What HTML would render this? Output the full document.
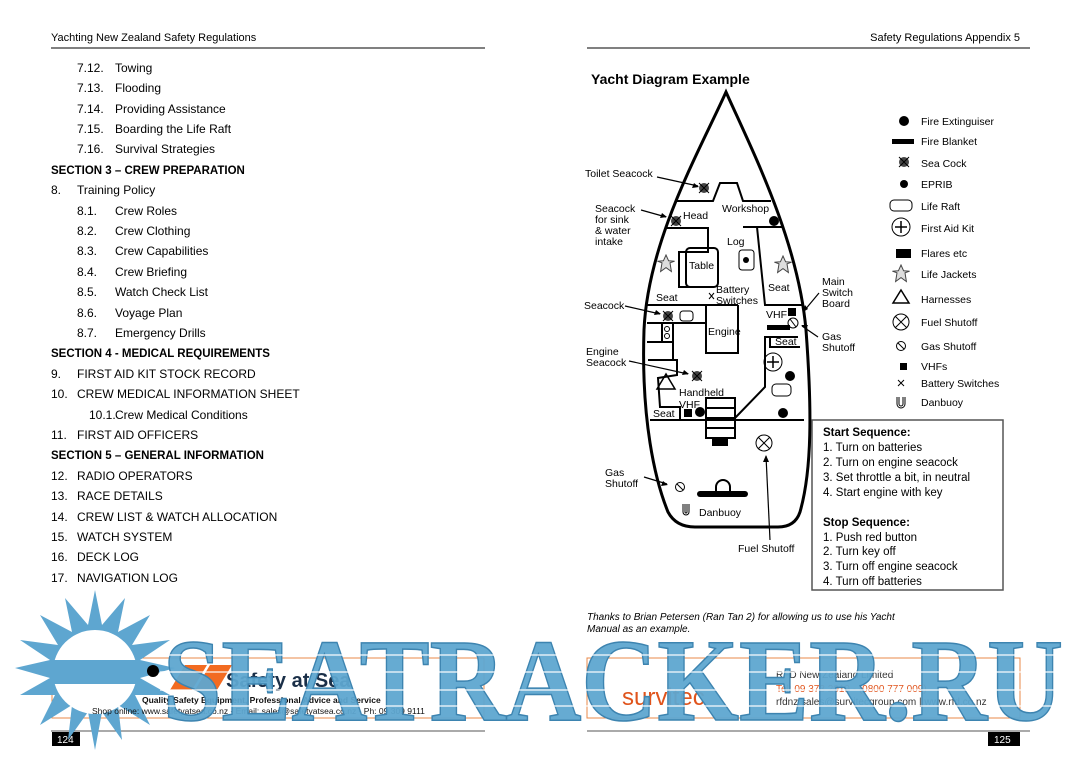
<!DOCTYPE html>
<html><head><meta charset="utf-8"><style>
html,body{margin:0;padding:0;background:#fff;}
svg{display:block;font-family:"Liberation Sans",sans-serif;}
</style></head><body>
<svg width="1080" height="757" viewBox="0 0 1080 757" xmlns="http://www.w3.org/2000/svg">
<defs>
<symbol id="sc" viewBox="-6 -6 12 12"><circle r="5" fill="#444"/><path d="M-5-5L5 5M5-5L-5 5" stroke="#000" stroke-width="1"/></symbol>
<symbol id="star" viewBox="-10 -10 20 20"><path d="M0-9L2.6-3.2 8.6-2.8 4-1.2 5.4 7.5 0 3.6-5.4 7.5-4-1.2-8.6-2.8-2.6-3.2Z" fill="#ddd" stroke="#444" stroke-width="1"/></symbol>
</defs>
<!-- headers -->
<g font-size="11" fill="#000">
<text x="51" y="41">Yachting New Zealand Safety Regulations</text>
<text x="1020" y="41" text-anchor="end">Safety Regulations Appendix 5</text>
</g>
<line x1="51" y1="48" x2="485" y2="48" stroke="#000" stroke-width="1"/>
<line x1="587" y1="48" x2="1030" y2="48" stroke="#000" stroke-width="1"/>
<!-- left list -->
<g font-size="12" fill="#000">
<text x="77" y="72">7.12.</text><text x="115" y="72">Towing</text>
<text x="77" y="92">7.13.</text><text x="115" y="92">Flooding</text>
<text x="77" y="113">7.14.</text><text x="115" y="113">Providing Assistance</text>
<text x="77" y="133">7.15.</text><text x="115" y="133">Boarding the Life Raft</text>
<text x="77" y="153">7.16.</text><text x="115" y="153">Survival Strategies</text>
<text x="51" y="174" font-weight="bold" font-size="11.5">SECTION 3 – CREW PREPARATION</text>
<text x="51" y="194">8.</text><text x="77" y="194">Training Policy</text>
<text x="77" y="215">8.1.</text><text x="115" y="215">Crew Roles</text>
<text x="77" y="235">8.2.</text><text x="115" y="235">Crew Clothing</text>
<text x="77" y="255">8.3.</text><text x="115" y="255">Crew Capabilities</text>
<text x="77" y="276">8.4.</text><text x="115" y="276">Crew Briefing</text>
<text x="77" y="296">8.5.</text><text x="115" y="296">Watch Check List</text>
<text x="77" y="317">8.6.</text><text x="115" y="317">Voyage Plan</text>
<text x="77" y="337">8.7.</text><text x="115" y="337">Emergency Drills</text>
<text x="51" y="357" font-weight="bold" font-size="11.5">SECTION 4 - MEDICAL REQUIREMENTS</text>
<text x="51" y="378">9.</text><text x="77" y="378">FIRST AID KIT STOCK RECORD</text>
<text x="51" y="398">10.</text><text x="77" y="398">CREW MEDICAL INFORMATION SHEET</text>
<text x="89" y="419">10.1.</text><text x="115" y="419">Crew Medical Conditions</text>
<text x="51" y="439">11.</text><text x="77" y="439">FIRST AID OFFICERS</text>
<text x="51" y="459" font-weight="bold" font-size="11.5">SECTION 5 – GENERAL INFORMATION</text>
<text x="51" y="480">12.</text><text x="77" y="480">RADIO OPERATORS</text>
<text x="51" y="500">13.</text><text x="77" y="500">RACE DETAILS</text>
<text x="51" y="521">14.</text><text x="77" y="521">CREW LIST &amp; WATCH ALLOCATION</text>
<text x="51" y="541">15.</text><text x="77" y="541">WATCH SYSTEM</text>
<text x="51" y="561">16.</text><text x="77" y="561">DECK LOG</text>
<text x="51" y="582">17.</text><text x="77" y="582">NAVIGATION LOG</text>
</g>
<text x="591" y="84" font-size="14" font-weight="bold">Yacht Diagram Example</text>

<!-- yacht -->
<g fill="none" stroke="#000" stroke-width="2">
<path d="M726 92 C700 150,648 240,644 330 C641 420,655 480,668 512 Q676 527,695 527 L778 527 Q795 527,800 512 C812 470,812 410,806 330 C798 240,752 150,726 92 Z" stroke-width="3"/>
<polyline points="676,201 713,201 720,183 737,183 743,201 771,201"/>
<polyline points="665,228 708,228 708,252 679,252 679,287 709,287"/>
<rect x="686" y="248" width="32" height="39" rx="4"/>
<polyline points="743,227 783,227"/>
<polyline points="757,227 765,305 802,305"/>
<line x1="647" y1="305" x2="738" y2="305"/>
<polyline points="706,305 706,353 738,353 738,305"/>
<line x1="647" y1="323" x2="706" y2="323"/>
<polyline points="647,342 673,342"/>
<line x1="662" y1="323" x2="662" y2="342"/>
<line x1="673" y1="323" x2="673" y2="360"/>
<polyline points="648,360 677,360 677,375 658,378 660,407 680,407 680,420"/>
<line x1="650" y1="420" x2="804" y2="420"/>
<rect x="706" y="398" width="29" height="40"/>
<line x1="706" y1="408" x2="735" y2="408"/><line x1="706" y1="418" x2="735" y2="418"/><line x1="706" y1="428" x2="735" y2="428"/>
<polyline points="735,418 765,387 765,337 770,337 770,347 800,347"/>
<polyline points="770,337 798,337"/>
</g>
<g stroke="#000" stroke-width="1" fill="none">
<rect x="739" y="250" width="15" height="20" rx="3"/>
<rect x="680" y="311" width="13" height="10" rx="3"/>
<rect x="772" y="384" width="19" height="12" rx="4"/>
<circle cx="773" cy="362" r="9"/><path d="M767 362h12M773 356v12" stroke-width="1.5"/>
<circle cx="764" cy="443" r="8"/><path d="M758 437l12 12M770 437l-12 12"/>
<circle cx="793" cy="323" r="5"/><path d="M790 319l6 8"/>
<circle cx="680" cy="487" r="4.5"/><path d="M677 484l6 6"/>
<path d="M683 504v8a3 3 0 0 0 6 0v-8M685 504v8a1 1 0 0 0 2 0v-8"/>
<circle cx="667" cy="329" r="2.5"/><circle cx="667" cy="336" r="2.5"/>
<path d="M666 374l-9 15h18z" stroke-width="1.5"/>
<path d="M709 293l5 6M714 293l-5 6"/>
<path d="M716 487a7 7 0 0 1 14 0v5h-14z" stroke-width="2"/>
</g>
<circle cx="746" cy="260" r="3" fill="#000"/>
<rect x="697" y="491" width="51" height="6" rx="3" fill="#000"/>
<rect x="712" y="437" width="16" height="9" fill="#000"/>
<rect x="767" y="325" width="23" height="5" fill="#000"/>
<rect x="788" y="308" width="8" height="8" fill="#000"/>
<rect x="684" y="409" width="8" height="8" fill="#000"/>
<g fill="#000"><circle cx="774" cy="221" r="5"/><circle cx="790" cy="376" r="5"/><circle cx="783" cy="413" r="5"/><circle cx="700" cy="412" r="5"/></g>
<use href="#sc" x="698" y="182" width="12" height="12"/>
<use href="#sc" x="670" y="215" width="12" height="12"/>
<use href="#sc" x="662" y="310" width="12" height="12"/>
<use href="#sc" x="691" y="370" width="12" height="12"/>
<use href="#star" x="656" y="254" width="20" height="20"/>
<use href="#star" x="773" y="255" width="20" height="20"/>
<g font-size="10.5" fill="#000">
<text x="683" y="219">Head</text><text x="722" y="212">Workshop</text>
<text x="727" y="245">Log</text><text x="689" y="269">Table</text>
<text x="656" y="301">Seat</text><text x="768" y="291">Seat</text>
<text x="716" y="293">Battery</text><text x="716" y="304">Switches</text>
<text x="708" y="335">Engine</text><text x="766" y="318">VHF</text>
<text x="775" y="345">Seat</text>
<text x="679" y="396">Handheld</text><text x="679" y="408">VHF</text>
<text x="653" y="417">Seat</text><text x="699" y="516">Danbuoy</text>
<text x="585" y="177">Toilet Seacock</text>
<text x="595" y="212">Seacock</text><text x="595" y="223">for sink</text><text x="595" y="234">&amp; water</text><text x="595" y="245">intake</text>
<text x="584" y="309">Seacock</text>
<text x="586" y="355">Engine</text><text x="586" y="366">Seacock</text>
<text x="605" y="476">Gas</text><text x="605" y="487">Shutoff</text>
<text x="738" y="552">Fuel Shutoff</text>
<text x="822" y="285">Main</text><text x="822" y="296">Switch</text><text x="822" y="307">Board</text>
<text x="822" y="340">Gas</text><text x="822" y="351">Shutoff</text>
</g>
<g stroke="#000" stroke-width="1.2" fill="none">
<path d="M657 177L698 186"/><path d="M641 210L666 217"/><path d="M625 306L660 314"/>
<path d="M629 361L688 374"/><path d="M644 477L667 484"/><path d="M770 540L766 456"/>
<path d="M819 293L804 311"/><path d="M818 337L802 326"/>
</g>
<g fill="#000">
<path d="M699 187l-7 1 2-5z"/><path d="M667 217l-7 1 2-5z"/><path d="M661 314l-7 1 2-5z"/>
<path d="M689 374l-7 1 2-5z"/><path d="M668 485l-7 1 2-5z"/><path d="M766 455l-3 7 6 0z"/>
<path d="M803 312l2-7 3 4z"/><path d="M801 325l7 0-2 4z"/>
</g>
<!-- legend -->
<g fill="#000">
<circle cx="904" cy="121" r="5"/><rect x="892" y="139" width="22" height="5"/>
<use href="#sc" x="898" y="156" width="12" height="12"/>
<circle cx="904" cy="184" r="4"/><rect x="896" y="249" width="15" height="9"/>
<rect x="900" y="363" width="7" height="7"/>
</g>
<g stroke="#000" stroke-width="1" fill="none">
<rect x="890" y="200" width="22" height="11" rx="4"/>
<circle cx="901" cy="227" r="9"/><path d="M895 227h12M901 221v12" stroke-width="1.5"/>
<path d="M901 290l-8 13h16z" stroke-width="1.5"/>
<circle cx="901" cy="322" r="8"/><path d="M895 316l12 12M907 316l-12 12"/>
<circle cx="901" cy="346" r="4.5"/><path d="M898 343l6 6"/>
<path d="M898 380l6 6M904 380l-6 6"/>
<path d="M897 397v7a4 4 0 0 0 8 0v-7M899 397v7a2 2 0 0 0 4 0v-7"/>
</g>
<use href="#star" x="891" y="264" width="20" height="20"/>
<g font-size="10.5" fill="#000">
<text x="921" y="125">Fire Extinguiser</text><text x="921" y="145">Fire Blanket</text>
<text x="921" y="167">Sea Cock</text><text x="921" y="188">EPRIB</text>
<text x="921" y="210">Life Raft</text><text x="921" y="232">First Aid Kit</text>
<text x="921" y="257">Flares etc</text><text x="921" y="278">Life Jackets</text>
<text x="921" y="303">Harnesses</text><text x="921" y="326">Fuel Shutoff</text>
<text x="921" y="350">Gas Shutoff</text><text x="921" y="370">VHFs</text>
<text x="921" y="387">Battery Switches</text><text x="921" y="406">Danbuoy</text>
</g>
<rect x="812" y="420" width="191" height="170" fill="#fff" stroke="#555" stroke-width="1.5"/>
<g font-size="11.5" fill="#000">
<text x="823" y="436" font-weight="bold">Start Sequence:</text>
<text x="823" y="451">1. Turn on batteries</text>
<text x="823" y="466">2. Turn on engine seacock</text>
<text x="823" y="481">3. Set throttle a bit, in neutral</text>
<text x="823" y="496">4. Start engine with key</text>
<text x="823" y="526" font-weight="bold">Stop Sequence:</text>
<text x="823" y="541">1. Push red button</text>
<text x="823" y="555">2. Turn key off</text>
<text x="823" y="570">3. Turn off engine seacock</text>
<text x="823" y="585">4. Turn off batteries</text>
</g>
<g font-size="10" font-style="italic" fill="#000">
<text x="587" y="620">Thanks to Brian Petersen (Ran Tan 2) for allowing us to use his Yacht</text>
<text x="587" y="632">Manual as an example.</text>
</g>
<!-- footers -->
<rect x="52" y="658" width="432" height="60" fill="none" stroke="#e8884a" stroke-width="1"/>
<rect x="587" y="658" width="433" height="60" fill="none" stroke="#e8884a" stroke-width="1"/>
<line x1="51" y1="731" x2="485" y2="731" stroke="#555"/>
<line x1="587" y1="731" x2="1030" y2="731" stroke="#555"/>
<rect x="52" y="732" width="28" height="14" fill="#000"/>
<text x="57" y="743" font-size="10" fill="#fff">124</text>
<rect x="988" y="732" width="32" height="14" fill="#000"/>
<text x="994" y="743" font-size="10" fill="#fff">125</text>
<!-- sun watermark -->
<g fill="#5ea6d0">
<path d="M95 590 L102 625 L125 598 L118 632 L150 615 L132 645 L170 640 L140 660 L175 668 L140 678 L170 695 L135 695 L150 725 L118 705 L122 740 L102 712 L95 750 L88 712 L68 740 L72 705 L40 725 L55 695 L20 695 L50 678 L15 668 L50 660 L20 640 L58 645 L40 615 L72 632 L65 598 L88 625Z"/>
</g>
<circle cx="95" cy="672" r="42" fill="#fff"/>
<path d="M53 672a42 42 0 0 1 84 0z" fill="#5ea6d0" opacity="0"/>
<rect x="53" y="660" width="84" height="24" fill="#5ea6d0"/>
<!-- logos -->
<path d="M170 690l15-25h22l-15 25z M195 690l15-25h22l-15 25z" fill="#f26b21"/>
<circle cx="153" cy="671" r="6" fill="#000"/>
<text x="226" y="687" font-size="20" font-weight="bold" fill="#1a2f48">Safety at Sea</text>
<text x="142" y="703" font-size="8.5" font-weight="bold" fill="#111">Quality Safety Equipment, Professional Advice and Service</text>
<text x="92" y="714" font-size="8.5" fill="#111">Shop online: www.safetyatsea.co.nz - Email: sales@safetyatsea.co.nz - Ph: 09 309 9111</text>
<text x="622" y="705" font-size="24" fill="#e0541c">survitec</text>
<text x="776" y="678" font-size="10" fill="#333">RFD New Zealand Limited</text>
<text x="776" y="692" font-size="10" fill="#e0541c">Tel: 09 373 2019 - (0800 777 009)</text>
<text x="776" y="705" font-size="10" fill="#333">rfdnz.sales@survitecgroup.com  |  www.rfd.co.nz</text>
<!-- big watermark text -->
<text x="163" y="720" font-family="Liberation Serif, serif" font-weight="bold" font-size="118" fill="#5ea6d0" fill-opacity="0.95" stroke="#3d84b0" stroke-width="1.5" textLength="900" lengthAdjust="spacingAndGlyphs">SEATRACKER.RU</text>
<g stroke="#fff" stroke-width="2" opacity="0.6">
<line x1="160" y1="655" x2="1065" y2="655"/><line x1="160" y1="672" x2="1065" y2="672"/>
<line x1="160" y1="690" x2="1065" y2="690"/><line x1="160" y1="706" x2="1065" y2="706"/>
</g>
</svg>
</body></html>
